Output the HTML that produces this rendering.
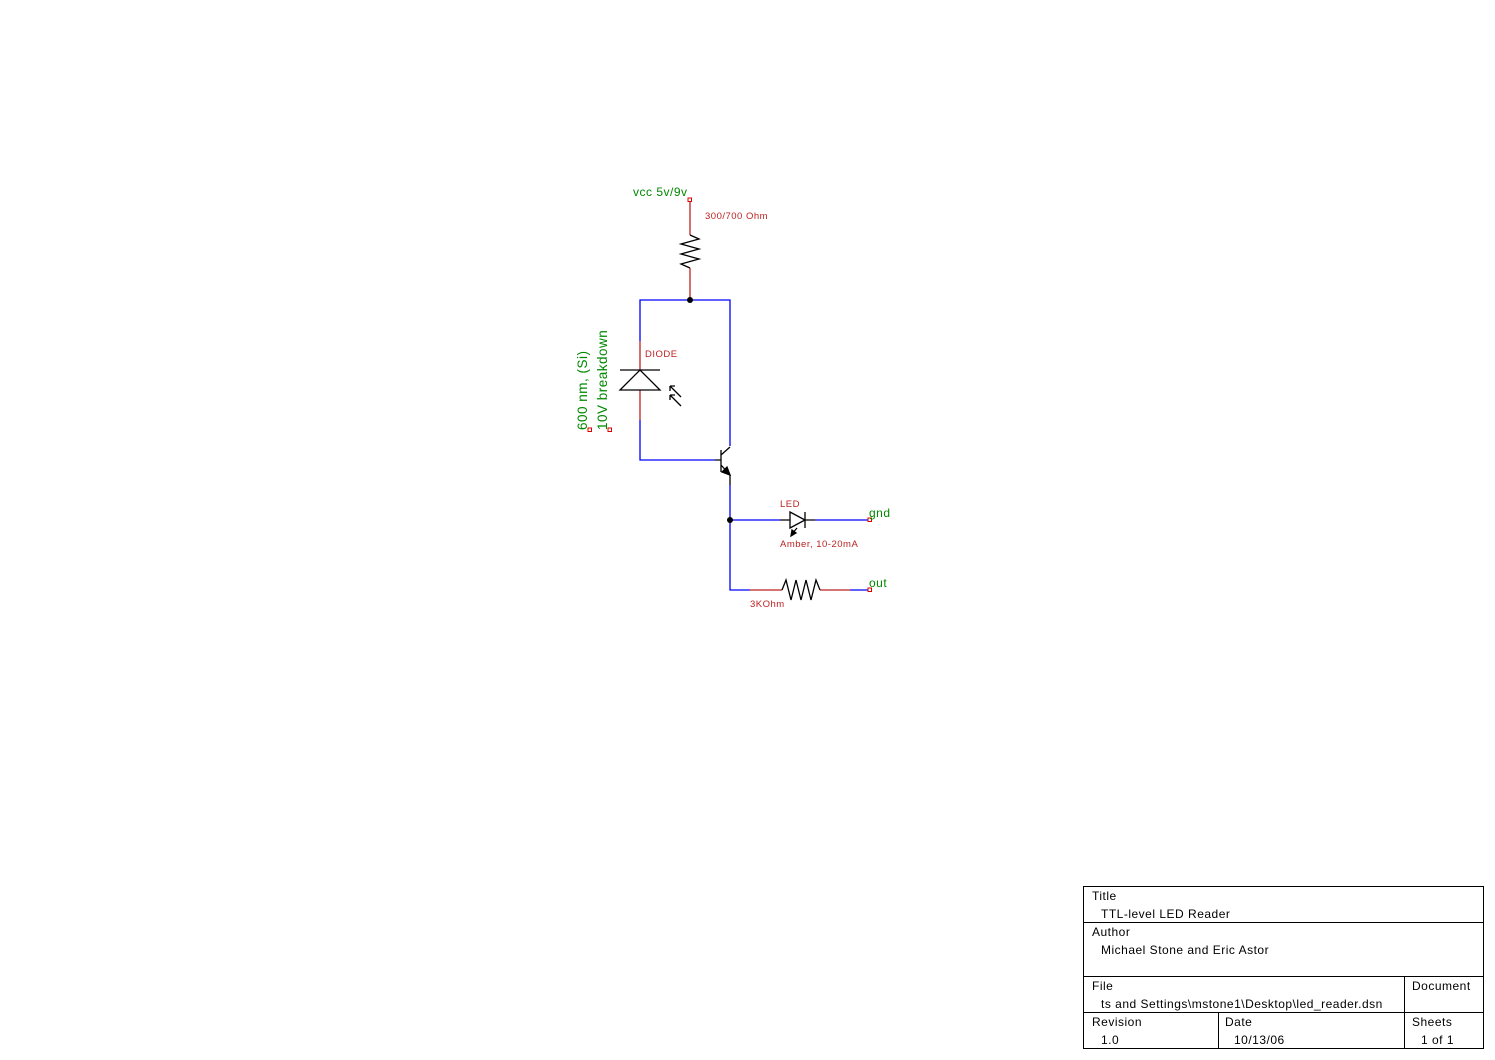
<!DOCTYPE html>
<html><head><style>body{margin:0;background:#fff}svg{display:block}</style></head><body>
<svg width="1495" height="1060" xmlns="http://www.w3.org/2000/svg" font-family="Liberation Sans, sans-serif">
<g fill="none" stroke-width="1.3">
<path d="M690,201V235M690,268V300" stroke="#b22"/>
<path d="M690,235L699,239L681,244L699,249L681,254L699,259L681,264L690,268" stroke="#000"/>
<path d="M690,300H640V341M640,420V460H715M690,300H730V446" stroke="#00f"/>
<path d="M640,341V370M640,390V420" stroke="#b22"/>
<path d="M620,370H660M620,390H660L640,370Z" stroke="#000"/>
<path d="M681,397L670,386M670,386v5M670,386h5M681,406L670,395M670,395v5M670,395h5" stroke="#000"/>
<path d="M721,450V472M715,460H721M721,455L730,447M721,465L730,475V485" stroke="#000"/>
<path d="M730,475L722,472L727,467Z" fill="#000" stroke="#000"/>
<path d="M730,485V590H750M730,520H780M815,520H870M850,590H870" stroke="#00f"/>
<path d="M780,520H790M805,520H815M790,512V528L805,520ZM805,512V528M797,528L791,535" stroke="#000"/>
<path d="M791,536L792,530L796,533Z" fill="#000" stroke="#000"/>
<path d="M750,590H782M820,590H850" stroke="#b22"/>
<path d="M782,590L786,580L791,600L796,580L801,600L806,580L811,600L816,580L820,590" stroke="#000"/>
</g>
<circle cx="690" cy="300" r="3"/><circle cx="730" cy="520" r="3"/>
<g fill="#fff" stroke="#d00" stroke-width="1">
<rect x="688" y="198" width="3.5" height="3.5"/><rect x="868" y="518" width="3.5" height="3.5"/><rect x="868" y="588" width="3.5" height="3.5"/>
<rect x="588" y="428" width="3.5" height="3.5"/><rect x="608" y="428" width="3.5" height="3.5"/>
</g>
<g fill="#080" font-size="12" letter-spacing="0.5">
<text x="633" y="196">vcc 5v/9v</text>
<text x="869" y="517">gnd</text>
<text x="869" y="587">out</text>
<text transform="translate(587,430) rotate(-90)" font-size="13.5">600 nm, (Si)</text>
<text transform="translate(607,430) rotate(-90)" font-size="13.5">10V breakdown</text>
</g>
<g fill="#b22" font-size="9.5" letter-spacing="0.5">
<text x="705" y="219">300/700 Ohm</text>
<text x="645" y="357">DIODE</text>
<text x="780" y="507">LED</text>
<text x="780" y="547">Amber, 10-20mA</text>
<text x="750" y="607">3KOhm</text>
</g>
<g fill="none" stroke="#000" stroke-width="1">
<rect x="1083.5" y="886.5" width="400" height="162"/>
<path d="M1083,922.5H1484M1083,976.5H1484M1083,1012.5H1484M1404.5,976V1049M1218.5,1012V1049"/>
</g>
<g font-size="12" fill="#000" letter-spacing="0.5">
<text x="1092" y="900">Title</text><text x="1101" y="918">TTL-level LED Reader</text>
<text x="1092" y="936">Author</text><text x="1101" y="954">Michael Stone and Eric Astor</text>
<text x="1092" y="990">File</text><text x="1101" y="1008">ts and Settings\mstone1\Desktop\led_reader.dsn</text>
<text x="1412" y="990">Document</text>
<text x="1092" y="1026">Revision</text><text x="1101" y="1044">1.0</text>
<text x="1225" y="1026">Date</text><text x="1234" y="1044">10/13/06</text>
<text x="1412" y="1026">Sheets</text><text x="1421" y="1044">1 of 1</text>
</g>
</svg>
</body></html>
